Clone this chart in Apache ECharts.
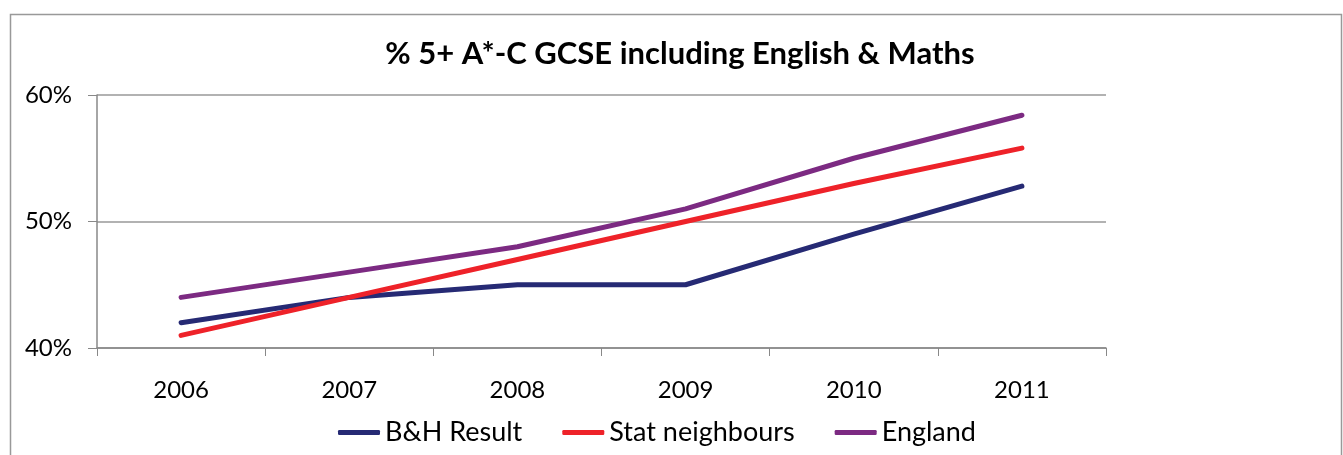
<!DOCTYPE html>
<html>
<head>
<meta charset="utf-8">
<script src="https://cdn.jsdelivr.net/npm/echarts@6/dist/echarts.min.js"></script>
<style>
  html, body { margin: 0; padding: 0; background: #fff; }
  #chart { width: 1343px; height: 455px; }
</style>
</head>
<body>
<div id="chart"></div>
<script>
const years = ['2006', '2007', '2008', '2009', '2010', '2011']
const bhResult = [42, 44, 45, 45, 49, 52.8]
const statNeighbours = [41, 44, 47, 50, 53, 55.8]
const england = [44, 46, 48, 51, 55, 58.4]

const font = 'Lato, "Open Sans", sans-serif'

const lineSeries = (name, data, color) => ({
    name: name,
    type: 'line',
    data: data,
    symbol: 'none',
    color: color,
    lineStyle: { width: 5, color: color, cap: 'round', join: 'round' },
    emphasis: { disabled: true },
})

const option = {
    animation: false,
    textStyle: { fontFamily: font },
    title: {
        text: '% 5+ A*-C GCSE including English & Maths',
        left: 675,
        textAlign: 'center',
        top: 33,
        textStyle: { fontFamily: font, fontSize: 31, fontWeight: 'bold', color: '#000' },
    },
    graphic: [
        {
            type: 'rect',
            shape: { x: 10.5, y: 14.5, width: 1331, height: 460 },
            style: { fill: 'none', stroke: '#999', lineWidth: 1.5 },
            silent: true,
        },
    ],
    legend: {
        left: 333,
        top: 414,
        itemWidth: 42,
        itemHeight: 5,
        itemGap: 40,
        icon: 'roundRect',
        textStyle: { fontFamily: font, fontSize: 27, color: '#000' },
    },
    grid: { left: 97, right: 237, top: 95, bottom: 107, containLabel: false },
    xAxis: {
        type: 'category',
        data: years,
        boundaryGap: true,
        axisLine: { lineStyle: { color: '#888', width: 1.5 } },
        axisTick: { show: true, length: 8, lineStyle: { color: '#888' } },
        axisLabel: { fontFamily: font, fontSize: 24, color: '#000', margin: 30 },
    },
    yAxis: {
        type: 'value',
        min: 40,
        max: 60,
        interval: 10,
        axisLine: { show: true, lineStyle: { color: '#888', width: 1.5 } },
        axisTick: { show: true, length: 9, lineStyle: { color: '#888' } },
        axisLabel: { fontFamily: font, fontSize: 24, color: '#000', margin: 25, formatter: '{value}%' },
        splitLine: { lineStyle: { color: '#999', width: 1.5 } },
    },
    series: [
        lineSeries('B&H Result', bhResult, '#262A74'),
        lineSeries('Stat neighbours', statNeighbours, '#EE2229'),
        lineSeries('England', england, '#7C2A82'),
    ],
}

const chart = echarts.init(document.getElementById('chart'))
chart.setOption(option)
</script>
</body>
</html>
